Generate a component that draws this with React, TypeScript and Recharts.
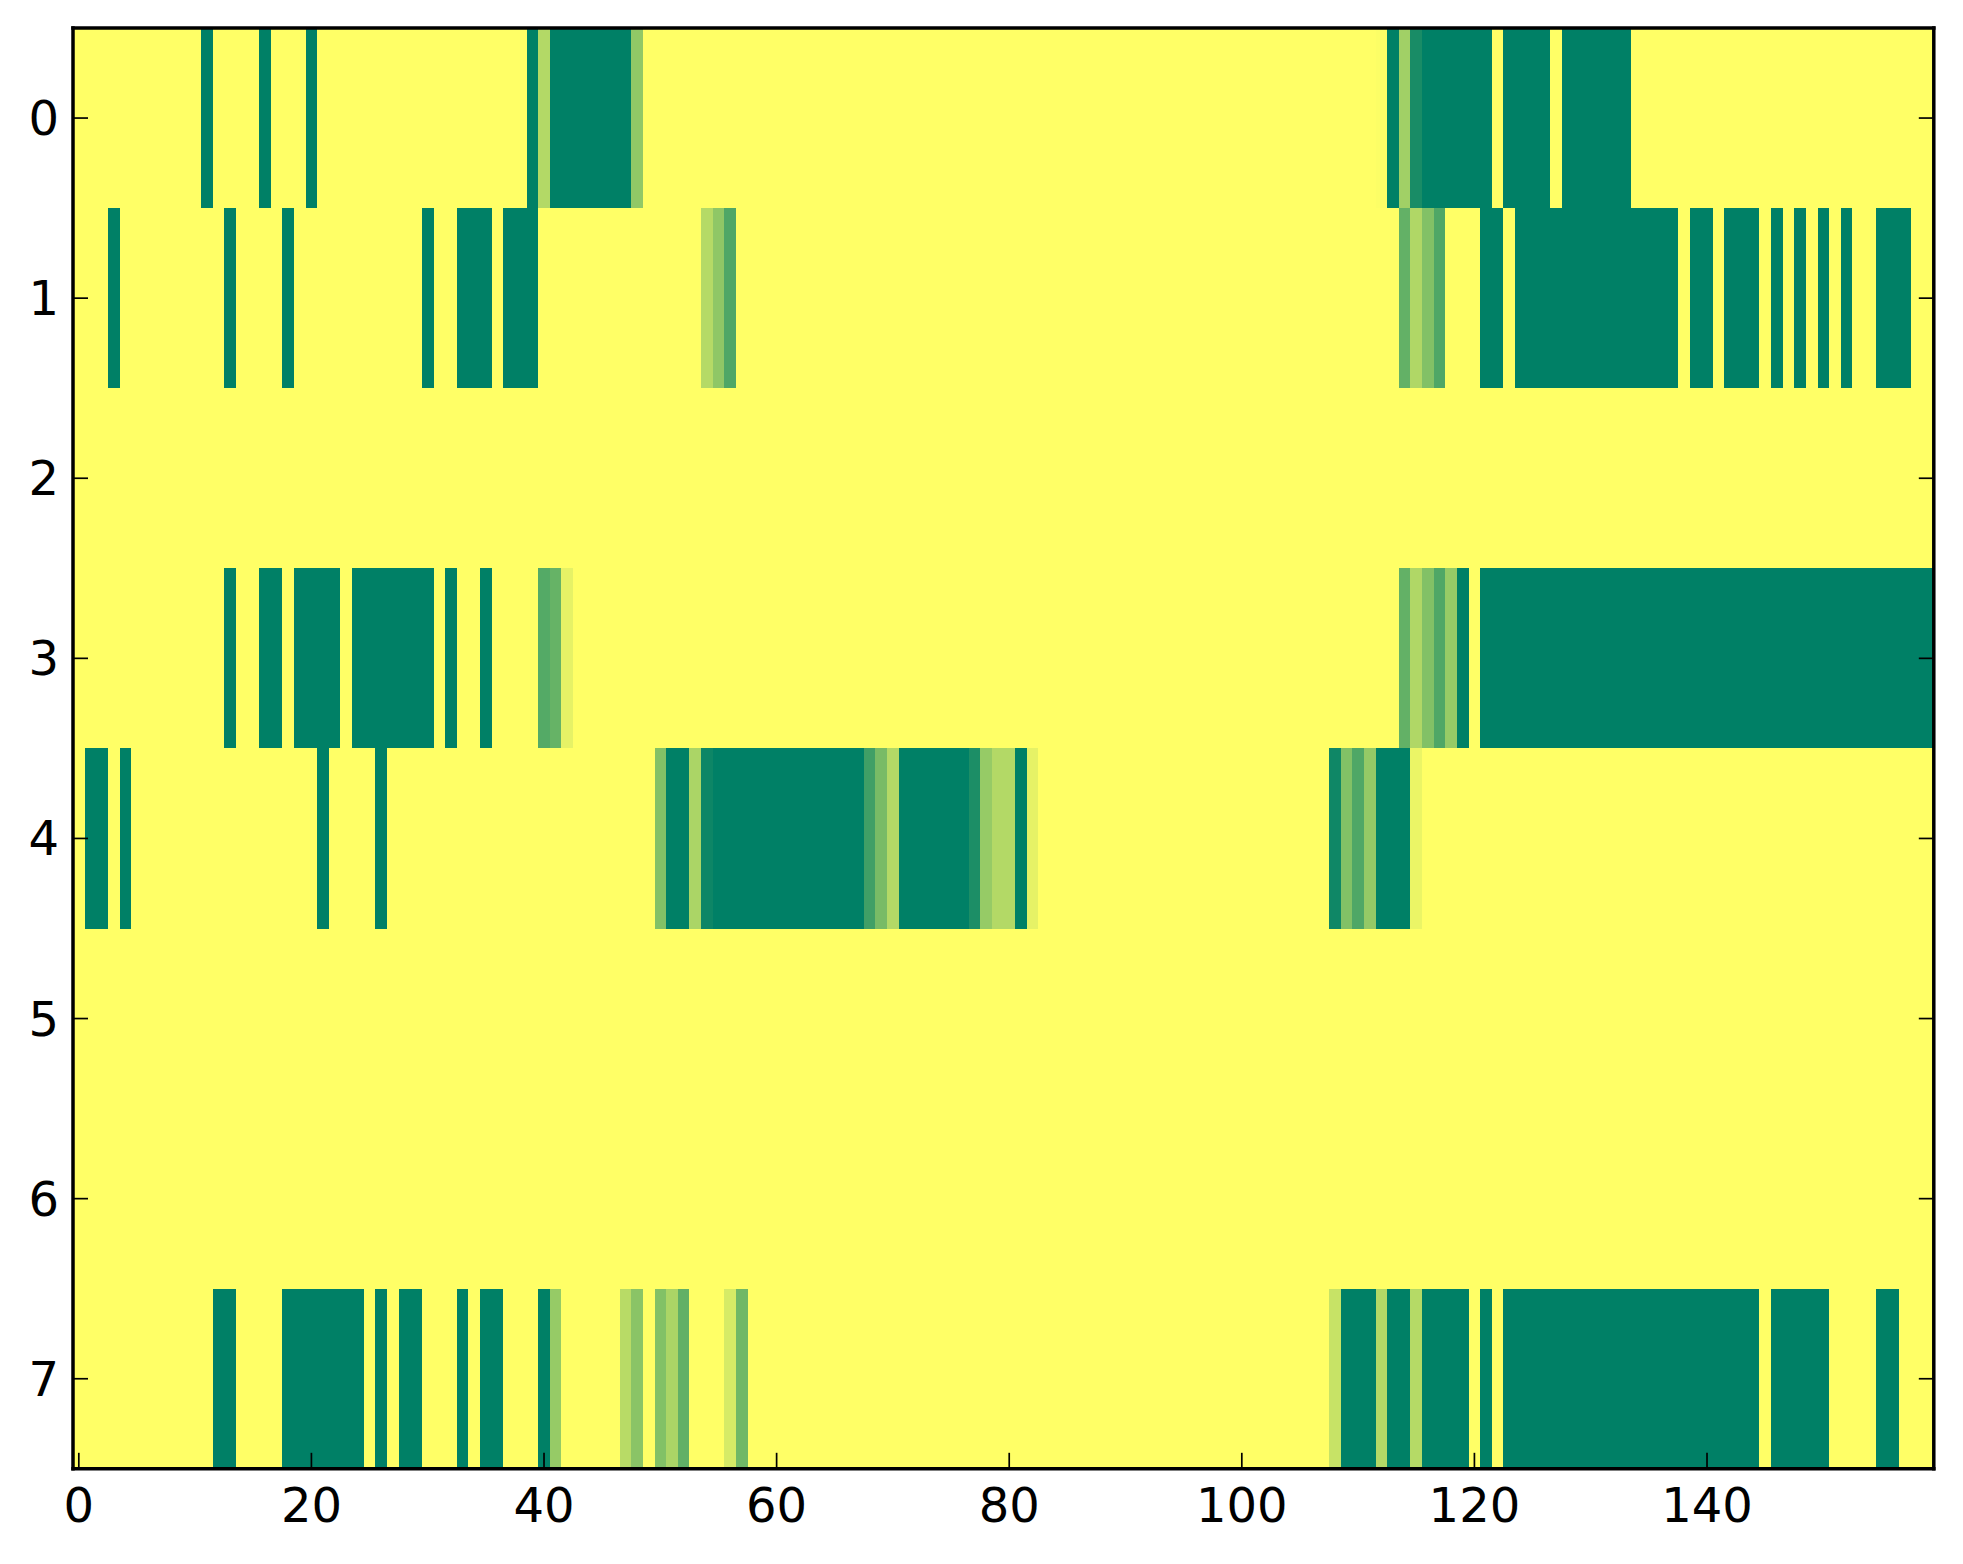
import React from 'react';
import { ScatterChart, Scatter, XAxis, YAxis } from 'recharts';

// Each run is [first column, last column, intensity 0..1]; anything not listed is 0.
const row0 = [[11,11,1],[16,16,1],[20,20,1],[39,39,1],[40,40,0.3],[41,47,1],[48,48,0.43],[112,112,0.01],[113,113,1],[114,114,0.37],[115,115,0.9],[116,121,1],[123,126,1],[128,133,1]];
const row1 = [[3,3,1],[13,13,1],[18,18,1],[30,30,1],[33,35,1],[37,39,1],[54,54,0.29],[55,55,0.44],[56,56,0.69],[114,114,0.61],[115,115,0.31],[116,116,0.49],[117,117,0.69],[121,122,1],[124,137,1],[139,140,1],[142,144,1],[146,146,1],[148,148,1],[150,150,1],[152,152,1],[155,157,1]];
const row2: number[][] = [];
const row3 = [[13,13,1],[16,17,1],[19,22,1],[24,30,1],[32,32,1],[35,35,1],[40,40,0.67],[41,41,0.6],[42,42,0.1],[114,114,0.61],[115,115,0.31],[116,116,0.49],[117,117,0.69],[118,118,0.41],[119,119,1],[121,159,1]];
const row4 = [[1,2,1],[4,4,1],[21,21,1],[26,26,1],[50,50,0.49],[51,52,1],[53,53,0.33],[54,54,0.95],[55,67,1],[68,68,0.75],[69,69,0.53],[70,70,0.3],[71,76,1],[77,77,0.89],[78,78,0.41],[79,80,0.3],[81,81,1],[82,82,0.1],[108,108,0.94],[109,109,0.49],[110,110,0.69],[111,111,0.42],[112,114,1],[115,115,0.08]];
const row5: number[][] = [];
const row6: number[][] = [];
const row7 = [[12,13,1],[18,24,1],[26,26,1],[28,29,1],[33,33,1],[35,36,1],[40,40,1],[41,41,0.41],[47,47,0.28],[48,48,0.46],[50,50,0.49],[51,51,0.33],[52,52,0.62],[56,56,0.16],[57,57,0.56],[108,108,0.22],[109,111,1],[112,112,0.3],[113,114,1],[115,115,0.29],[116,119,1],[121,121,1],[123,144,1],[146,150,1],[155,156,1]];

const rows = [row0, row1, row2, row3, row4, row5, row6, row7];
const xTicks = [0, 20, 40, 60, 80, 100, 120, 140];
const yTicks = [0, 1, 2, 3, 4, 5, 6, 7];
const columnCount = 160;

const W = 1963, H = 1564;
const LEFT = 73, RIGHT = 1933.8, TOP = 28, BOTTOM = 1468.8;
const cellW = (RIGHT - LEFT) / columnCount;
const cellH = (BOTTOM - TOP) / rows.length;

// matplotlib's summer colormap, reversed
const summerR = (v: number) =>
  `rgb(${Math.round(255 * (1 - v))},${Math.round(255 * (1 - v / 2))},102)`;

const cells: { col: number; row: number; v: number }[] = [];
rows.forEach((runs, row) => {
  for (let col = 0; col < columnCount; col++) {
    const run = runs.find((r) => col >= r[0] && col <= r[1]);
    cells.push({ col, row, v: run ? run[2] : 0 });
  }
});

const Cell = (p: any) => (
  <rect
    x={p.cx - cellW / 2}
    y={p.cy - cellH / 2}
    width={cellW}
    height={cellH}
    fill={summerR(p.payload.v)}
    shapeRendering="crispEdges"
  />
);

const spine = { stroke: '#000', strokeWidth: 3.5, strokeLinecap: 'square' as const };
const tickMark = { stroke: '#000', strokeWidth: 1.7 };
const labelStyle = { fontFamily: '"DejaVu Sans"', fontSize: 48, fill: '#000' };
const NoLabel = () => <g />;

export default function App() {
  return (
    <div style={{ position: 'absolute', left: 0, top: 0, width: W, height: H, background: '#fff' }}>
      <ScatterChart
        width={W}
        height={H}
        margin={{ top: TOP - 1, right: W - RIGHT - 1, bottom: 0, left: 0 }}
      >
        <Scatter data={cells} dataKey="row" isAnimationActive={false} shape={<Cell />} xAxisId="b" yAxisId="l" zIndex={100} />
        <XAxis xAxisId="b" type="number" dataKey="col" orientation="bottom" domain={[-0.5, 159.5]} allowDataOverflow ticks={xTicks} interval={0} zIndex={2000}
          height={H - BOTTOM} axisLine={spine} tickLine={tickMark} tickSize={-16} tickMargin={35} tick={labelStyle} />
        <XAxis xAxisId="t" type="number" orientation="top" domain={[-0.5, 159.5]} allowDataOverflow ticks={xTicks} interval={0} zIndex={2000}
          height={1} axisLine={spine} tickLine={tickMark} tickSize={-16} tick={<NoLabel />} />
        <YAxis yAxisId="l" type="number" dataKey="row" orientation="left" reversed domain={[-0.5, 7.5]} allowDataOverflow ticks={yTicks} interval={0} zIndex={2000}
          width={LEFT} axisLine={spine} tickLine={tickMark} tickSize={-15} tickMargin={29} tick={labelStyle} />
        <YAxis yAxisId="r" type="number" orientation="right" reversed domain={[-0.5, 7.5]} allowDataOverflow ticks={yTicks} interval={0} zIndex={2000}
          width={1} axisLine={spine} tickLine={tickMark} tickSize={-15} tick={<NoLabel />} />
      </ScatterChart>
    </div>
  );
}
